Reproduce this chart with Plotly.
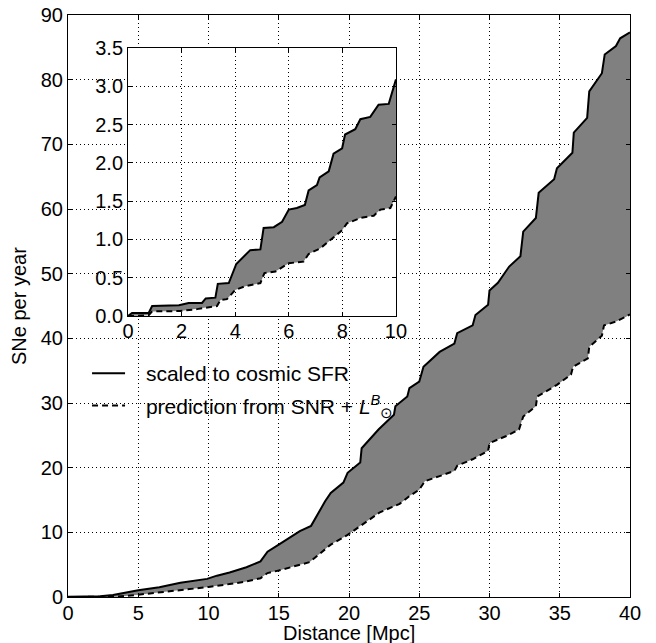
import plotly.graph_objects as go

# ---------------- data ----------------
# main panel: distance [Mpc] vs SNe per year
dist_upper = [0, 2.3, 3.2, 4.2, 5, 6.5, 8, 9.9, 10.6, 11.5, 12.7, 13.7, 14.2, 15, 16.5,
              17.3, 17.6, 18.3, 18.7, 19.6, 19.9, 20.8, 20.9, 22.1, 23.2, 23.3, 24.15,
              24.3, 25.0, 25.3, 26.45, 27.5, 27.7, 28.8, 29.0, 29.9, 30.0, 30.6, 31.4,
              32.2, 32.4, 33.3, 33.5, 34.6, 34.8, 35.9, 36.0, 36.95, 37.1, 38.0, 38.2,
              39.0, 39.3, 40]
sne_upper = [0.05, 0.1, 0.3, 0.7, 1.05, 1.5, 2.2, 2.8, 3.3, 3.8, 4.6, 5.5, 7.0, 8.1, 10.2,
             11.0, 12.2, 14.8, 16.1, 17.7, 19.2, 20.8, 23.0, 25.9, 28.2, 29.5, 31.0,
             32.3, 33.3, 35.6, 37.9, 39.2, 40.8, 42.0, 43.6, 45.2, 47.4, 48.6, 51.1,
             52.7, 56.5, 58.6, 62.5, 64.6, 66.3, 68.7, 71.8, 74.1, 78.2, 81.0, 83.9,
             85.2, 86.4, 87.3]

dist_lower = [0, 3.5, 5, 6.5, 8, 10, 11.5, 12.7, 13.7, 14.2, 15, 16.1, 17.2, 17.7, 18.4,
              18.7, 19.9, 20.8, 22.2, 23.6, 24.3, 25.0, 25.4, 26.45, 27.5, 27.7, 28.8,
              29.9, 30.0, 31.2, 32.1, 32.4, 33.3, 33.4, 34.8, 35.8, 35.95, 37.0, 37.1,
              38.0, 38.15, 39.0, 39.6, 40]
sne_lower = [0, 0.05, 0.35, 0.7, 1.1, 1.55, 2.0, 2.4, 2.9, 3.7, 4.1, 4.7, 5.4, 6.3, 7.6,
             8.1, 9.6, 11.0, 13.1, 14.4, 15.6, 16.6, 17.9, 18.7, 19.5, 20.3, 21.3,
             22.6, 23.8, 24.9, 25.9, 27.9, 29.5, 31.0, 32.8, 34.4, 35.6, 36.9, 38.7,
             40.4, 42.0, 42.6, 43.2, 43.7]

# inset panel: 0-10 Mpc
inset_dist_upper = [0, 0.15, 0.77, 0.9, 1.9, 2.26, 2.76, 2.9, 3.26, 3.35, 3.76, 4.04, 4.56,
                    4.94, 5.06, 5.44, 5.75, 6.0, 6.3, 6.6, 6.74, 7.05, 7.15, 7.49, 7.67,
                    7.99, 8.1, 8.48, 8.67, 9.04, 9.35, 9.73, 10]
inset_sne_upper = [0, 0.04, 0.04, 0.13, 0.14, 0.17, 0.17, 0.23, 0.24, 0.42, 0.43, 0.68, 0.86,
                   0.87, 1.15, 1.16, 1.23, 1.39, 1.41, 1.45, 1.64, 1.71, 1.81, 1.89, 2.12,
                   2.19, 2.37, 2.44, 2.57, 2.6, 2.76, 2.77, 3.09]
inset_dist_lower = [0, 0.77, 0.9, 1.95, 2.57, 2.95, 3.32, 3.45, 3.69, 4.0, 4.38, 4.94, 5.09,
                    5.5, 5.81, 6.0, 6.55, 6.74, 7.18, 7.55, 7.99, 8.17, 8.67, 9.17, 9.42,
                    9.79, 10]
inset_sne_lower = [0, 0.01, 0.06, 0.065, 0.09, 0.11, 0.13, 0.21, 0.22, 0.34, 0.39, 0.43, 0.56,
                   0.58, 0.645, 0.69, 0.71, 0.81, 0.885, 0.99, 1.12, 1.21, 1.28, 1.31, 1.39,
                   1.41, 1.56]

NB = "\u00a0\u00a0\u2009"
label_upper = NB + "scaled to cosmic SFR"
label_lower = NB + "prediction from SNR + <i>L</i><sup><i>B</i></sup><sub>⊙</sub>"
x_title = "Distance [Mpc]"
y_title = "SNe per year"

FONT = "Liberation Sans, Arial, Helvetica, sans-serif"
GRAY = "#808080"
DASH = "6px,4px"

fig = go.Figure()

# ---- main panel ----
fig.add_trace(go.Scatter(x=dist_upper + dist_lower[::-1], y=sne_upper + sne_lower[::-1],
                         fill="toself", fillcolor=GRAY, mode="lines",
                         line=dict(width=0, color=GRAY), hoverinfo="skip",
                         showlegend=False, xaxis="x", yaxis="y"))
fig.add_trace(go.Scatter(x=dist_upper, y=sne_upper, mode="lines",
                         line=dict(color="black", width=2), name=label_upper,
                         legendgroup="a", xaxis="x", yaxis="y"))
fig.add_trace(go.Scatter(x=dist_lower, y=sne_lower, mode="lines",
                         line=dict(color="black", width=2, dash=DASH), name=label_lower,
                         legendgroup="b", xaxis="x", yaxis="y"))

# ---- inset ----
fig.add_trace(go.Scatter(x=inset_dist_upper + inset_dist_lower[::-1],
                         y=inset_sne_upper + inset_sne_lower[::-1],
                         fill="toself", fillcolor=GRAY, mode="lines",
                         line=dict(width=0, color=GRAY), hoverinfo="skip",
                         showlegend=False, xaxis="x2", yaxis="y2"))
fig.add_trace(go.Scatter(x=inset_dist_upper, y=inset_sne_upper, mode="lines",
                         line=dict(color="black", width=2), showlegend=False,
                         xaxis="x2", yaxis="y2"))
fig.add_trace(go.Scatter(x=inset_dist_lower, y=inset_sne_lower, mode="lines",
                         line=dict(color="black", width=2, dash=DASH), showlegend=False,
                         xaxis="x2", yaxis="y2"))

axis_common = dict(showline=True, linecolor="black", linewidth=1, mirror="ticks",
                   ticks="inside", ticklen=4, tickcolor="black", tickwidth=1,
                   showgrid=True, gridcolor="black", gridwidth=1, griddash="1px,3px",
                   zeroline=False, automargin=False, ticklabeloverflow="allow",
                   tickfont=dict(family=FONT, size=20, color="black"))

fig.update_layout(
    template="none",
    width=656, height=643,
    margin=dict(l=68, r=26, t=15, b=46, autoexpand=False),
    paper_bgcolor="white", plot_bgcolor="white",
    font=dict(family=FONT, size=20, color="black"),
    xaxis=dict(domain=[0, 1], range=[0, 40], tick0=0, dtick=5, anchor="y",
               ticklabelstandoff=-2, **axis_common),
    yaxis=dict(domain=[0, 1], range=[0, 90], tick0=0, dtick=10, anchor="x", **axis_common),
    xaxis2=dict(domain=[0.1068, 0.5836], range=[0, 10], tick0=0, dtick=2, anchor="y2",
                ticklabelstandoff=-3, **axis_common),
    yaxis2=dict(domain=[0.4828, 0.9433], range=[0, 3.5], tick0=0, dtick=0.5,
                tickformat=".1f", anchor="x2", **axis_common),
    showlegend=True,
    legend=dict(x=0.0339, y=0.4192, xanchor="left", yanchor="top",
                bgcolor="rgba(0,0,0,0)", borderwidth=0,
                font=dict(family=FONT, size=21, color="black"),
                traceorder="grouped", tracegroupgap=2, itemwidth=33),
    annotations=[
        dict(text=x_title, xref="paper", yref="paper", x=0.5, y=-0.061,
             xanchor="center", yanchor="middle", showarrow=False,
             font=dict(family=FONT, size=20, color="black")),
        dict(text=y_title, xref="paper", yref="paper", x=(19 - 68) / 562, y=0.5,
             xanchor="center", yanchor="middle", textangle=-90, showarrow=False,
             font=dict(family=FONT, size=20, color="black")),
    ],
)

fig.write_html("out.html", config={"displayModeBar": False},
               post_script="document.body.style.margin='0px';document.body.style.padding='0px';")
